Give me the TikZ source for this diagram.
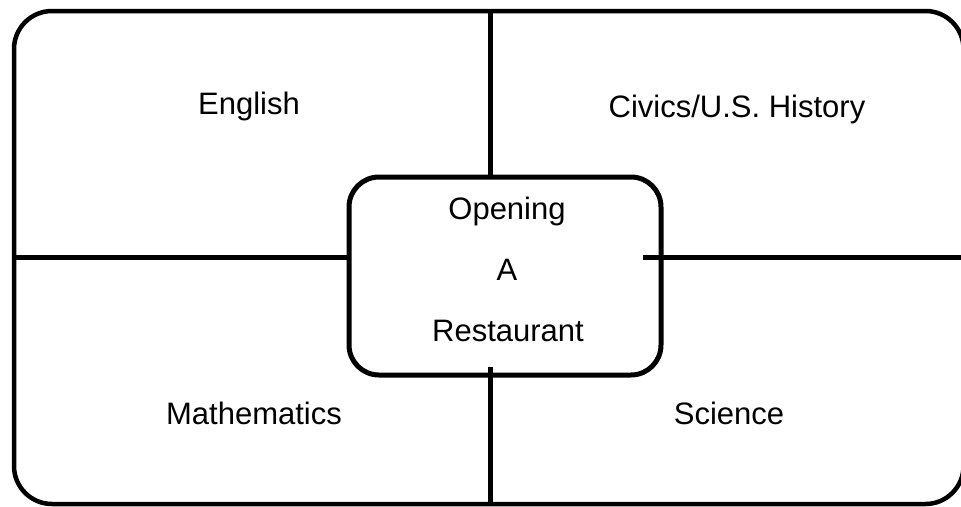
\documentclass[tikz,border=0pt]{standalone}
\usepackage{fontspec}
\setmainfont{Liberation Sans}
\begin{document}
\begin{tikzpicture}[x=1pt,y=-1pt,line width=5pt,
  frame/.style={draw,inner sep=0pt,outer sep=0pt},
  lbl/.style={anchor=base,inner sep=0pt,font=\fontsize{31}{37}\selectfont}]
\useasboundingbox (0,0) rectangle (961,506);
\begin{scope}
\clip (0,0) rectangle (961,506);
\coordinate (onw) at (14,11);
\coordinate (ose) at (963.5,504);
\draw[rounded corners=38pt,line width=4.5pt] (onw) rectangle (ose);
\node[frame,rounded corners=30pt,minimum width=312pt,minimum height=198pt] (hub) at (505,276) {};
\coordinate (vt) at (490,11);
\coordinate (vb) at (490,367);
\coordinate (hl) at (14,257);
\coordinate (hr) at (643,257);
\draw (vt) -- (vt |- hub.north);
\draw (vb) -- (vb |- ose);
\draw (hl) -- (hl -| hub.west);
\draw (hr) -- (hr -| ose);
\end{scope}
\node[lbl] (english) at (249,114) {English};
\node[lbl] (civics) at (737,117) {Civics/U.S. History};
\node[lbl] (math) at (254,424) {Mathematics};
\node[lbl] (science) at (729,424) {Science};
\node[lbl] (t1) at (507,219) {Opening};
\node[lbl] (t2) at (507,280) {A};
\node[lbl] (t3) at (508,341) {Restaurant};
\end{tikzpicture}
\end{document}
